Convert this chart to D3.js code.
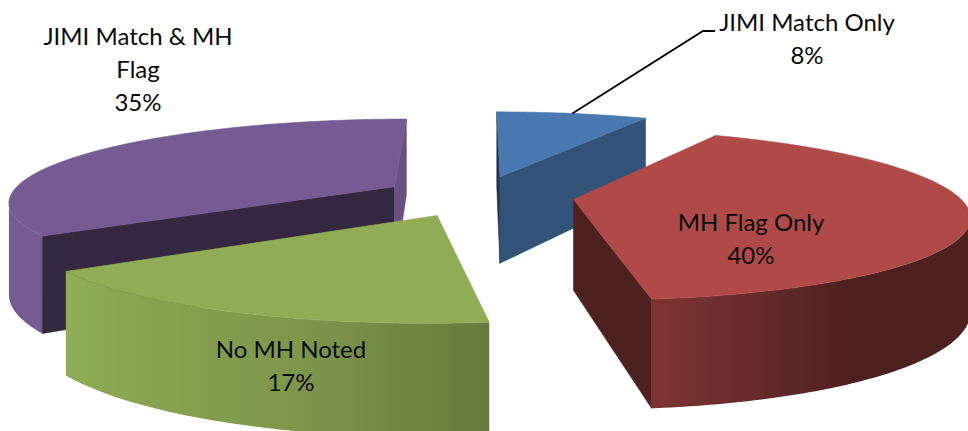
<!DOCTYPE html>
<html>
<head>
<meta charset="utf-8">
<script src="https://cdn.jsdelivr.net/npm/d3@7"></script>
<style>
html,body{margin:0;padding:0;background:#fff;overflow:hidden}
svg{display:block}
text{font-family:Lato,"Open Sans",sans-serif;font-size:24px;fill:#0a0a0a;text-anchor:middle}
</style>
</head>
<body>
<svg id="chart" width="968" height="431"></svg>
<script>
const categories = ["JIMI Match Only","MH Flag Only","No MH Noted","JIMI Match & MH Flag"];
const shares = [7.6, 40.4, 17.4, 34.6];
const topColors = ["#4a78b0","#b04a48","#90ad56","#755b92"];
const cutShades = [[0.42,0.68],[1,0.44],[1,0.44],[0.44,0.9]];
const labelLines = [["JIMI Match Only"],["MH Flag Only"],["No MH Noted"],["JIMI Match & MH","Flag"]];
const labelAnchors = [[807,31],[751,231],[291,358],[138,45]];
const drawOrder = [0,3,2,1];

const cx=478, cy=196, R=385, ry=82, k=0.17, depth=90, explode=0.25, lineGap=33;
const svg=d3.select("#chart");
const defs=svg.append("defs");
const pie=d3.pie().sort(null).startAngle(0).endAngle(2*Math.PI);
const arcs=pie(shares);
const deg=Math.PI/180;
const wallShade=d3.scaleLinear().domain([145,172,195,235,300].map(d=>d*deg)).range([0.44,0.7,0.87,1,1]).clamp(true);
const tone=(c,f)=>{const r=d3.rgb(c);return d3.rgb(r.r*f,r.g*f,r.b*f).formatHex();};

function project(X,Y,z){
  const w=1+k*Y;
  return [cx+R*X/w, cy-ry*Y/w+depth*z/w];
}
const pathOf=d3.line();
function area(p){let s=0;p.forEach((a,i)=>{const b=p[(i+1)%p.length];s+=a[0]*b[1]-b[0]*a[1];});return s/2;}
function face(g,pts,color){
  g.append("path").attr("d",pathOf(pts)+"Z").attr("fill",color).attr("stroke",color).attr("stroke-width",0.6);
}

drawOrder.forEach(i=>{
  const d=arcs[i], color=topColors[i];
  const mid=(d.startAngle+d.endAngle)/2;
  const ax=explode*Math.sin(mid), ay=explode*Math.cos(mid);
  const rim=a=>[ax+Math.sin(a),ay+Math.cos(a)];
  const g=svg.append("g").attr("class","slice").datum(categories[i]);
  const steps=d3.range(0,Math.ceil((d.endAngle-d.startAngle)/deg)+1)
    .map(n=>Math.min(d.endAngle,d.startAngle+n*deg));

  // outer wall: the part facing the viewer, with a gradient sampled from its direction
  const visible=steps.filter((a,n)=>{
    const b=steps[Math.min(n+1,steps.length-1)], c=steps[Math.max(n-1,0)];
    const u=rim(c),v=rim(b);
    if(b===c) return false;
    const quad=[project(u[0],u[1],0),project(v[0],v[1],0),project(v[0],v[1],1),project(u[0],u[1],1)];
    return area(quad)<0;
  });
  if(visible.length>1){
    const tops=visible.map(a=>{const P=rim(a);return project(P[0],P[1],0);});
    const bottoms=visible.map(a=>{const P=rim(a);return project(P[0],P[1],1);});
    const xs=tops.map(p=>p[0]);
    const x0=d3.min(xs), x1=d3.max(xs);
    const id="wall"+i;
    const grad=defs.append("linearGradient").attr("id",id).attr("gradientUnits","userSpaceOnUse")
      .attr("x1",x0).attr("x2",x1).attr("y1",0).attr("y2",0);
    const sx=d3.scaleLinear().domain([x0,x1]).range([0,1]);
    visible.map((a,n)=>({o:sx(xs[n]),c:tone(color,wallShade(a))}))
      .sort((p,q)=>p.o-q.o)
      .forEach(s=>grad.append("stop").attr("offset",s.o).attr("stop-color",s.c));
    g.append("path").attr("d",pathOf(tops.concat(bottoms.reverse()))+"Z").attr("fill","url(#"+id+")");
  }
  // cut faces
  const S=rim(d.startAngle),E=rim(d.endAngle);
  const startFace=[project(ax,ay,0),project(S[0],S[1],0),project(S[0],S[1],1),project(ax,ay,1)];
  const endFace=[project(ax,ay,0),project(ax,ay,1),project(E[0],E[1],1),project(E[0],E[1],0)];
  if(area(startFace)<0) face(g,startFace,tone(color,cutShades[i][0]));
  if(area(endFace)<0) face(g,endFace,tone(color,cutShades[i][1]));
  // top
  const top=[project(ax,ay,0)].concat(steps.map(a=>{const P=rim(a);return project(P[0],P[1],0);}));
  face(g,top,color);
});

// leader line of the first slice
(function(){
  const d=arcs[0], mid=(d.startAngle+d.endAngle)/2;
  const ax=explode*Math.sin(mid), ay=explode*Math.cos(mid);
  const p=project(ax+Math.sin(mid),ay+Math.cos(mid),0);
  svg.append("path").attr("d",pathOf([p,[703,31],[715,31]]))
    .attr("fill","none").attr("stroke","#000").attr("stroke-width",1.8);
})();

categories.forEach((c,i)=>{
  const lines=labelLines[i].concat([Math.round(shares[i])+"%"]);
  const t=svg.append("text").attr("x",labelAnchors[i][0]).attr("y",labelAnchors[i][1]);
  lines.forEach((l,j)=>t.append("tspan").attr("x",labelAnchors[i][0]).attr("y",labelAnchors[i][1]+j*lineGap).text(l));
});
</script>
</body>
</html>
